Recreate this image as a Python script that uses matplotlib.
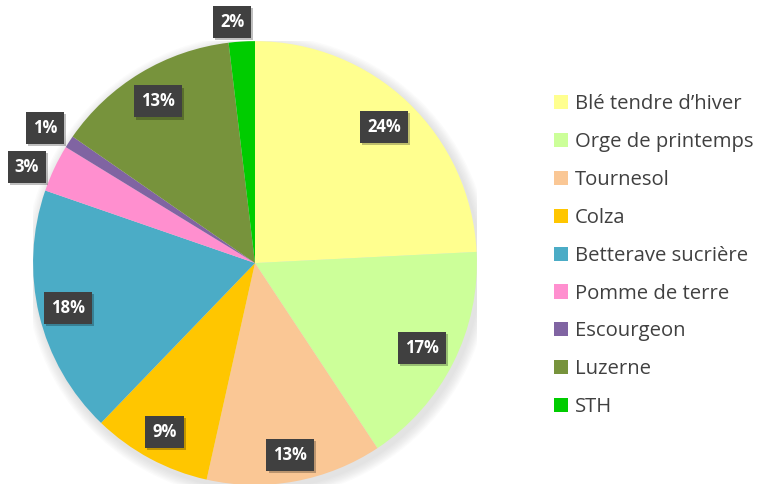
import numpy as np
import matplotlib.pyplot as plt
import matplotlib.patheffects as pe
from matplotlib.patches import Circle

categories = ['Blé tendre d\u2019hiver', 'Orge de printemps', 'Tournesol', 'Colza',
              'Betterave sucrière', 'Pomme de terre', 'Escourgeon', 'Luzerne', 'STH']
values = [24.2, 16.5, 12.8, 8.7, 18.1, 3.45, 0.9, 13.45, 1.9]
labels = ['24%', '17%', '13%', '9%', '18%', '3%', '1%', '13%', '2%']
colors = ['#FFFF8F', '#CCFF99', '#FAC795', '#FFC600', '#4BACC6',
          '#FF8FCF', '#8064A2', '#77933C', '#00CC00']
# distance of each label from centre (in radii) and angular nudge (deg)
label_dist = [0.845, 0.845, 0.88, 0.862, 0.865, 1.115, 1.125, 0.85, 1.09]
label_nudge = [0, 0, 0, 0, 0, 2.5, 0.4, 0, 2.0]

fig = plt.figure(figsize=(7.63, 4.84), dpi=100)
ax = fig.add_axes([0.0432, -0.002, 0.582, 0.917])

# soft shadow under the pie
for i in range(8):
    ax.add_patch(Circle((0.012, -0.018), 1.0 + 0.006 * (8 - i), color='#9a9a9a',
                        alpha=0.035, lw=0, zorder=0))

wedges, _ = ax.pie(values, colors=colors, startangle=90, counterclock=False,
                   radius=1.0, wedgeprops=dict(linewidth=0, zorder=1))
ax.set_xlim(-1, 1)
ax.set_ylim(-1, 1)
ax.set_aspect('equal')
ax.axis('off')

for w, lab, d, n in zip(wedges, labels, label_dist, label_nudge):
    ang = np.deg2rad((w.theta1 + w.theta2) / 2 + n)
    t = ax.text(d * np.cos(ang), d * np.sin(ang), lab, ha='center', va='center',
                fontsize=12, fontweight='bold', color='white', family='Open Sans',
                bbox=dict(boxstyle='square,pad=0.42', fc='#404040', ec='none'),
                clip_on=False, zorder=5)
    t.get_bbox_patch().set_path_effects(
        [pe.SimplePatchShadow(offset=(1.5, -1.5), shadow_rgbFace='black', alpha=0.25),
         pe.Normal()])

leg = fig.legend(wedges, categories, loc='upper left', bbox_to_anchor=(0.7125, 0.826),
                 frameon=False, borderpad=0, handlelength=0.7, handleheight=0.7,
                 handletextpad=0.35, labelspacing=0.88,
                 prop={'family': 'Open Sans', 'size': 14.6})
for t in leg.get_texts():
    t.set_color('#404040')

fig.savefig('out.png', dpi=100)
